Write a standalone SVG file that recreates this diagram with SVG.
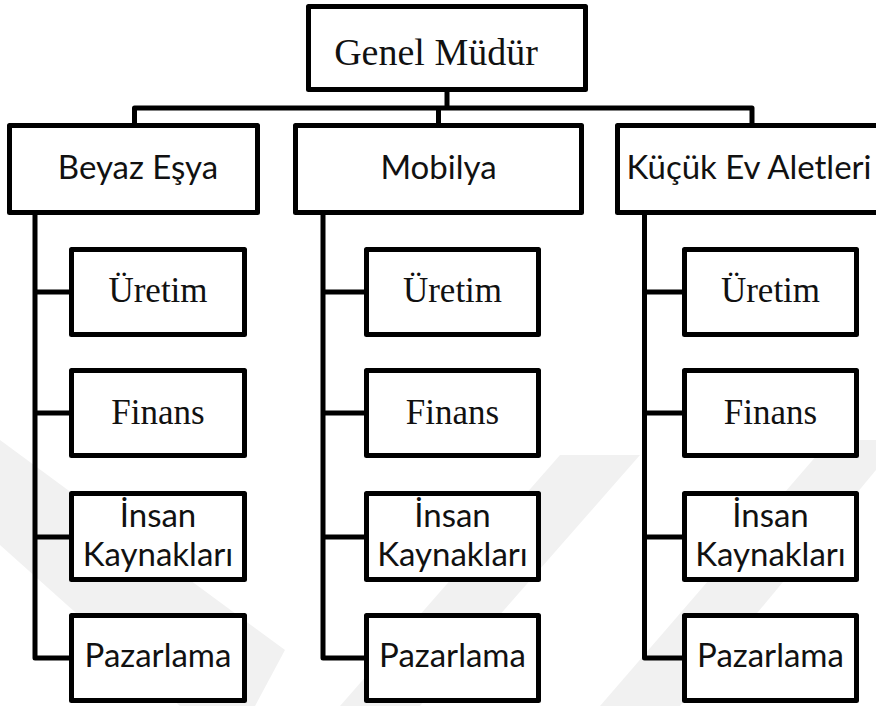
<svg xmlns="http://www.w3.org/2000/svg" width="876" height="706" viewBox="0 0 876 706">
  <style>
    .box { fill: #ffffff; stroke: #000000; stroke-width: 5; stroke-linejoin: round; }
    .wire { fill: none; stroke: #000000; stroke-width: 5; stroke-linejoin: round; stroke-linecap: butt; }
    .serif { font-family: "Liberation Serif", "Times New Roman", serif; fill: #111111; text-anchor: middle; }
    .sans { font-family: Lato, "Open Sans", "Liberation Sans", sans-serif; font-size: 33px; fill: #111111; text-anchor: middle; }
    .mark { fill: #f1f1f1; }
  </style>

  <rect x="0" y="0" width="876" height="706" fill="#ffffff"/>

  <!-- faint background emblem -->
  <g id="emblem">
    <polygon class="mark" points="0,440 285,650 255,706 180,706 0,545"/>
    <polygon class="mark" points="560,455 640,455 420,706 340,706"/>
    <polygon class="mark" points="830,440 876,440 876,470 680,706 600,706"/>
  </g>

  <!-- connectors -->
  <g id="connectors">
    <path class="wire" d="M447,92 V108"/>
    <path class="wire" d="M134.5,124 V108 H752 V124"/>
    <path class="wire" d="M438.5,108 V124"/>
    <!-- column trunks with branch stubs -->
    <path class="wire" d="M35,213 V658 H70"/>
    <path class="wire" d="M35,292 H70 M35,413 H70 M35,537 H70"/>
    <path class="wire" d="M323,213 V658 H365"/>
    <path class="wire" d="M323,292 H365 M323,413 H365 M323,537 H365"/>
    <path class="wire" d="M644.5,213 V658 H683"/>
    <path class="wire" d="M644.5,292 H683 M644.5,413 H683 M644.5,537 H683"/>
  </g>

  <g id="genel-mudur">
    <rect class="box" x="308.5" y="6.5" width="277" height="83"/>
    <text class="serif" x="436" y="65" font-size="38">Genel Müdür</text>
  </g>

  <g id="beyaz-esya">
    <rect class="box" x="9.5" y="125.5" width="248" height="87"/>
    <text class="sans" x="138" y="179">Beyaz Eşya</text>
  </g>
  <g id="mobilya">
    <rect class="box" x="295.5" y="125.5" width="286" height="87"/>
    <text class="sans" x="438.5" y="179">Mobilya</text>
  </g>
  <g id="kucuk-ev-aletleri">
    <rect class="box" x="617.5" y="125.5" width="270" height="87"/>
    <text class="sans" x="749" y="179">Küçük Ev Aletleri</text>
  </g>

  <!-- Beyaz Eşya departments -->
  <g id="beyaz-uretim">
    <rect class="box" x="71.5" y="249.5" width="173" height="85"/>
    <text class="serif" x="158" y="302" font-size="35">Üretim</text>
  </g>
  <g id="beyaz-finans">
    <rect class="box" x="71.5" y="370.5" width="173" height="85"/>
    <text class="serif" x="158" y="424" font-size="35">Finans</text>
  </g>
  <g id="beyaz-insan-kaynaklari">
    <rect class="box" x="71.5" y="493.5" width="173" height="86"/>
    <text class="sans" x="158" y="527">İnsan</text>
    <text class="sans" x="158" y="566">Kaynakları</text>
  </g>
  <g id="beyaz-pazarlama">
    <rect class="box" x="71.5" y="615.5" width="173" height="85"/>
    <text class="sans" x="158" y="667">Pazarlama</text>
  </g>

  <!-- Mobilya departments -->
  <g id="mobilya-uretim">
    <rect class="box" x="366.5" y="249.5" width="172" height="85"/>
    <text class="serif" x="452.5" y="302" font-size="35">Üretim</text>
  </g>
  <g id="mobilya-finans">
    <rect class="box" x="366.5" y="370.5" width="172" height="85"/>
    <text class="serif" x="452.5" y="424" font-size="35">Finans</text>
  </g>
  <g id="mobilya-insan-kaynaklari">
    <rect class="box" x="366.5" y="493.5" width="172" height="86"/>
    <text class="sans" x="452.5" y="527">İnsan</text>
    <text class="sans" x="452.5" y="566">Kaynakları</text>
  </g>
  <g id="mobilya-pazarlama">
    <rect class="box" x="366.5" y="615.5" width="172" height="85"/>
    <text class="sans" x="452.5" y="667">Pazarlama</text>
  </g>

  <!-- Küçük Ev Aletleri departments -->
  <g id="kucuk-uretim">
    <rect class="box" x="684.5" y="249.5" width="172" height="85"/>
    <text class="serif" x="770.5" y="302" font-size="35">Üretim</text>
  </g>
  <g id="kucuk-finans">
    <rect class="box" x="684.5" y="370.5" width="172" height="85"/>
    <text class="serif" x="770.5" y="424" font-size="35">Finans</text>
  </g>
  <g id="kucuk-insan-kaynaklari">
    <rect class="box" x="684.5" y="493.5" width="172" height="86"/>
    <text class="sans" x="770.5" y="527">İnsan</text>
    <text class="sans" x="770.5" y="566">Kaynakları</text>
  </g>
  <g id="kucuk-pazarlama">
    <rect class="box" x="684.5" y="615.5" width="172" height="85"/>
    <text class="sans" x="770.5" y="667">Pazarlama</text>
  </g>
</svg>
